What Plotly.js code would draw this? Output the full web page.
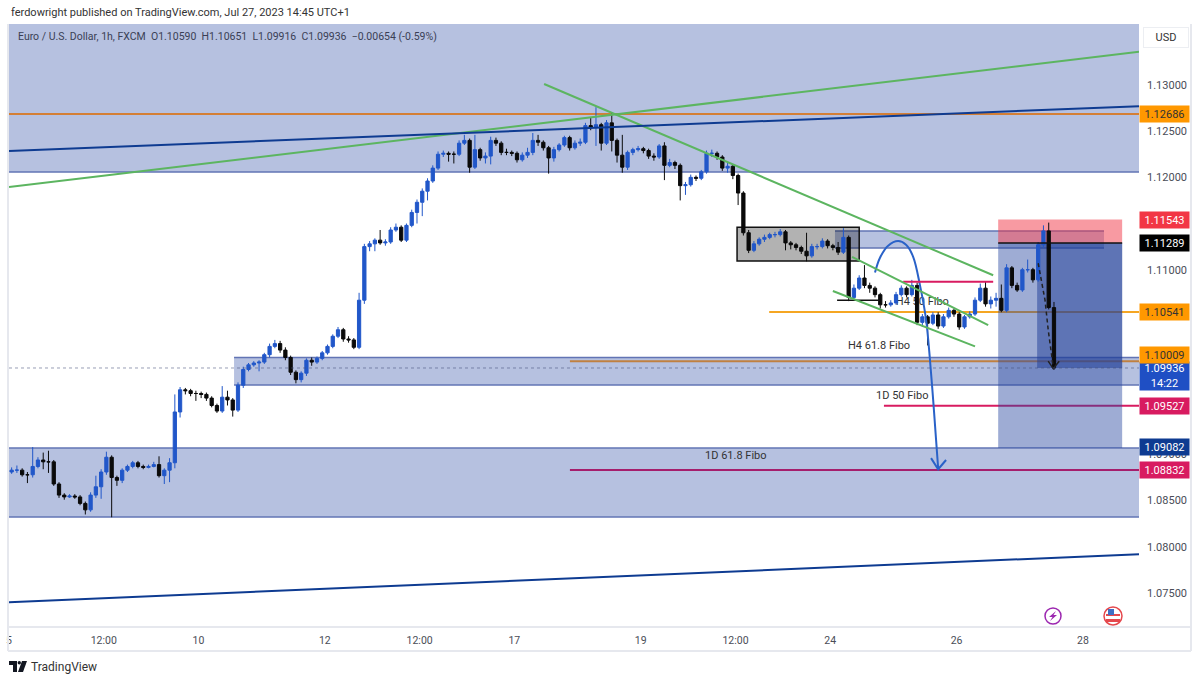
<!DOCTYPE html>
<html>
<head>
<meta charset="utf-8">
<script src="https://cdn.plot.ly/plotly-3.0.1.min.js"></script>
<style>html,body{margin:0;padding:0;background:#fff}</style>
</head>
<body>
<div id="chart" style="width:1200px;height:682px"></div>
<script>
// 2 hour candles
const opens = [1.0881,1.0883,1.0883,1.0878,1.0878,1.0887,1.0894,1.0892,1.0892,1.0868,1.0856,1.0854,1.0855,1.0854,1.0847,1.0840,1.0856,1.0865,1.0881,1.0897,
1.0875,1.0872,1.0883,1.0887,1.0891,1.0887,1.0886,1.0887,1.0889,1.0877,1.0883,1.0891,1.0946,1.0970,1.0969,1.0966,1.0966,1.0965,1.0961,1.0953,
1.0947,1.0962,1.0959,1.0948,1.0975,1.0992,1.0997,1.0999,1.1000,1.1008,1.1017,1.1020,1.1013,1.1005,1.0989,1.0981,1.0988,1.1002,1.1000,1.1004,
1.1010,1.1017,1.1028,1.1035,1.1025,1.1024,1.1016,1.1067,1.1125,1.1128,1.1132,1.1129,1.1130,1.1143,1.1146,1.1132,1.1148,1.1162,1.1173,1.1185,
1.1196,1.1210,1.1225,1.1226,1.1225,1.1225,1.1237,1.1240,1.1211,1.1230,1.1221,1.1223,1.1240,1.1237,1.1227,1.1227,1.1226,1.1219,1.1224,1.1227,
1.1240,1.1238,1.1232,1.1221,1.1230,1.1235,1.1243,1.1232,1.1237,1.1238,1.1256,1.1254,1.1257,1.1237,1.1259,1.1240,1.1224,1.1211,1.1227,1.1230,
1.1231,1.1229,1.1223,1.1222,1.1234,1.1213,1.1216,1.1213,1.1191,1.1192,1.1200,1.1199,1.1206,1.1226,1.1226,1.1222,1.1210,1.1212,1.1202,1.1183,
1.1140,1.1121,1.1128,1.1133,1.1135,1.1138,1.1138,1.1141,1.1129,1.1127,1.1124,1.1120,1.1115,1.1125,1.1125,1.1131,1.1126,1.1124,1.1119,1.1135,
1.1070,1.1080,1.1091,1.1083,1.1080,1.1073,1.1062,1.1062,1.1064,1.1073,1.1080,1.1073,1.1083,1.1043,1.1049,1.1042,1.1051,1.1039,1.1049,1.1056,
1.1052,1.1038,1.1049,1.1052,1.1067,1.1080,1.1063,1.1067,1.1069,1.1056,1.1102,1.1083,1.1078,1.1100,1.1100,1.1089,1.1127,1.1142,1.10590];
const highs = [1.0886,1.0888,1.0885,1.0881,1.0908,1.0897,1.0902,1.0904,1.0894,1.0870,1.0858,1.0857,1.0857,1.0856,1.0849,1.0859,1.0877,1.0884,1.0903,1.0899,
1.0877,1.0885,1.0889,1.0893,1.0893,1.0889,1.0889,1.0892,1.0898,1.0885,1.0896,1.0965,1.0973,1.0972,1.0971,1.0969,1.0968,1.0967,1.0963,1.0955,
1.0974,1.0969,1.0961,1.0978,1.0995,1.0999,1.1001,1.1002,1.1010,1.1020,1.1024,1.1023,1.1016,1.1007,1.0991,1.0990,1.1004,1.1005,1.1006,1.1012,
1.1019,1.1030,1.1038,1.1037,1.1028,1.1026,1.1075,1.1128,1.1131,1.1134,1.1143,1.1133,1.1146,1.1150,1.1148,1.1150,1.1165,1.1176,1.1188,1.1199,
1.1213,1.1228,1.1229,1.1228,1.1228,1.1240,1.1246,1.1242,1.1246,1.1232,1.1227,1.1244,1.1243,1.1239,1.1231,1.1229,1.1228,1.1227,1.1232,1.1248,
1.1246,1.1240,1.1234,1.1233,1.1237,1.1245,1.1245,1.1240,1.1242,1.1259,1.1265,1.1276,1.1259,1.1262,1.1270,1.1242,1.1246,1.1229,1.1232,1.1234,
1.1233,1.1231,1.1226,1.1236,1.1238,1.1220,1.1218,1.1215,1.1195,1.1203,1.1202,1.1208,1.1229,1.1230,1.1228,1.1224,1.1216,1.1214,1.1204,1.1185,
1.1143,1.1131,1.1135,1.1138,1.1140,1.1141,1.1144,1.1143,1.1131,1.1129,1.1126,1.1140,1.1128,1.1128,1.1134,1.1133,1.1128,1.1130,1.1145,1.1137,
1.1084,1.1094,1.1105,1.1086,1.1082,1.1075,1.1066,1.1067,1.1076,1.1083,1.1082,1.1089,1.1086,1.1052,1.1051,1.1054,1.1054,1.1052,1.1059,1.1058,
1.1054,1.1051,1.1055,1.1070,1.1085,1.1087,1.1071,1.1075,1.1084,1.1106,1.1104,1.1086,1.1102,1.1111,1.1102,1.1130,1.1148,1.1151,1.10651];
const lows = [1.0879,1.0880,1.0876,1.0869,1.0875,1.0885,1.0884,1.0880,1.0866,1.0853,1.0851,1.0853,1.0852,1.0845,1.0835,1.0838,1.0853,1.0852,1.0878,1.0832,
1.0866,1.0869,1.0881,1.0885,1.0885,1.0884,1.0885,1.0886,1.0875,1.0868,1.0870,1.0885,1.0940,1.0965,1.0963,1.0958,1.0961,1.0958,1.0951,1.0945,
1.0945,1.0953,1.0941,1.0946,1.0972,1.0990,1.0995,1.0990,1.0998,1.1005,1.1015,1.1010,1.1002,1.0986,1.0977,1.0978,1.0985,1.0996,1.0998,1.1002,
1.1008,1.1015,1.1026,1.1022,1.1021,1.1014,1.1014,1.1063,1.1120,1.1120,1.1127,1.1126,1.1128,1.1141,1.1130,1.1130,1.1146,1.1150,1.1158,1.1175,
1.1194,1.1208,1.1222,1.1217,1.1215,1.1223,1.1235,1.1205,1.1209,1.1218,1.1215,1.1214,1.1234,1.1224,1.1224,1.1223,1.1216,1.1217,1.1221,1.1224,
1.1234,1.1229,1.1204,1.1217,1.1228,1.1233,1.1229,1.1230,1.1234,1.1236,1.1251,1.1234,1.1229,1.1235,1.1228,1.1216,1.1205,1.1208,1.1224,1.1228,
1.1226,1.1220,1.1218,1.1220,1.1197,1.1211,1.1209,1.1175,1.1181,1.1190,1.1196,1.1197,1.1204,1.1222,1.1219,1.1207,1.1205,1.1198,1.1170,1.1137,
1.1118,1.1119,1.1126,1.1130,1.1133,1.1135,1.1136,1.1121,1.1122,1.1121,1.1117,1.1109,1.1113,1.1122,1.1123,1.1123,1.1121,1.1116,1.1117,1.1066,
1.1068,1.1078,1.1080,1.1075,1.1070,1.1058,1.1059,1.1060,1.1062,1.1071,1.1070,1.1071,1.1040,1.1038,1.1018,1.1040,1.1036,1.1037,1.1047,1.1049,
1.1035,1.1036,1.1047,1.1050,1.1065,1.1060,1.1058,1.1060,1.1054,1.1054,1.1080,1.1076,1.1076,1.1097,1.1086,1.1087,1.1124,1.1057,1.09916];
const closes = [1.0883,1.0883,1.0878,1.0878,1.0887,1.0894,1.0892,1.0892,1.0868,1.0856,1.0854,1.0855,1.0854,1.0847,1.0840,1.0856,1.0865,1.0881,1.0897,1.0875,
1.0872,1.0883,1.0887,1.0891,1.0887,1.0886,1.0887,1.0889,1.0877,1.0883,1.0891,1.0946,1.0970,1.0969,1.0966,1.0966,1.0965,1.0961,1.0953,1.0947,
1.0962,1.0959,1.0948,1.0975,1.0992,1.0997,1.0999,1.1000,1.1008,1.1017,1.1020,1.1013,1.1005,1.0989,1.0981,1.0988,1.1002,1.1000,1.1004,1.1010,
1.1017,1.1028,1.1035,1.1025,1.1024,1.1016,1.1067,1.1125,1.1128,1.1132,1.1129,1.1130,1.1143,1.1146,1.1132,1.1148,1.1162,1.1173,1.1185,1.1196,
1.1210,1.1225,1.1226,1.1225,1.1225,1.1237,1.1240,1.1211,1.1230,1.1221,1.1223,1.1240,1.1237,1.1227,1.1227,1.1226,1.1219,1.1224,1.1227,1.1240,
1.1238,1.1232,1.1221,1.1230,1.1235,1.1243,1.1232,1.1237,1.1238,1.1256,1.1254,1.1257,1.1237,1.1259,1.1240,1.1224,1.1211,1.1227,1.1230,1.1231,
1.1229,1.1223,1.1222,1.1234,1.1213,1.1216,1.1213,1.1191,1.1192,1.1200,1.1199,1.1206,1.1226,1.1226,1.1222,1.1210,1.1212,1.1202,1.1183,1.1140,
1.1121,1.1128,1.1133,1.1135,1.1138,1.1138,1.1141,1.1129,1.1127,1.1124,1.1120,1.1115,1.1125,1.1125,1.1131,1.1126,1.1124,1.1119,1.1135,1.1070,
1.1080,1.1091,1.1083,1.1080,1.1073,1.1062,1.1062,1.1064,1.1073,1.1080,1.1073,1.1083,1.1043,1.1049,1.1042,1.1051,1.1039,1.1049,1.1056,1.1052,
1.1038,1.1049,1.1052,1.1067,1.1080,1.1063,1.1067,1.1069,1.1056,1.1102,1.1083,1.1078,1.1100,1.1100,1.1089,1.1127,1.1142,1.1059,1.09936];
const hours = closes.map((c, i) => 2 * i + 1);

const xTickVals = [0, 36, 72, 120, 156, 192, 240, 276, 312, 360, 408];
const xTickText = ['5', '12:00', '10', '12', '12:00', '17', '19', '12:00', '24', '26', '28'];
const yTickVals = [1.075, 1.08, 1.085, 1.09, 1.11, 1.12, 1.125, 1.13];

// hand drawn arrows
const curveX = [329, 330.9, 334, 337.8, 340.8, 343.5, 346.1, 348.4, 349.9, 351.1, 352.2, 353];
const curveY = [1.1097, 1.1113, 1.1126, 1.1131, 1.1127, 1.1114, 1.1083, 1.1046, 1.1002, 1.0959, 1.0916, 1.0885];
const curveHeadX = [350.3, 353, 356];
const curveHeadY = [1.0896, 1.0884, 1.0894];
const dashX = [391, 393.6, 394.8, 396.7];
const dashY = [1.1107, 1.1067, 1.1035, 1.0995];
const dashHeadX = [394.8, 396.7, 399];
const dashHeadY = [1.1001, 1.0993, 1.1001];

// zones: x0, x1, y0, y1
const zones = [
  [0, 429.3, 1.1366, 1.12058],
  [85.5, 429.3, 1.1005, 1.09752],
  [0, 429.3, 1.0907, 1.08322],
  [313.8, 416, 1.1142, 1.11235]
];
const BLUE_FILL = 'rgba(57,86,170,0.37)';
const BLUE_EDGE = '#6274b4';

// levels that pass under the position tool: x0, y0, x1, y1, colour, width
const levels = [
  [0, 1.12686, 429.3, 1.12686, '#d47f35', 2],
  [288.8, 1.10541, 429.3, 1.10541, '#f5a623', 2],
  [213.1, 1.10009, 429.3, 1.10009, '#c08040', 2],
  [332.4, 1.09527, 429.3, 1.09527, '#d81b60', 2],
  [213.1, 1.08832, 429.3, 1.08832, '#a51e6c', 2]
];
// trend lines on top of the candles
const lines = [
  [339.7, 1.1087, 373.9, 1.1087, '#d81b60', 2],
  [314.6, 1.1067, 330.9, 1.1067, '#111111', 1.5],
  [375.8, 1.11289, 422.9, 1.11289, '#111111', 1.5],
  [0, 1.11895, 429.3, 1.1336, '#5cb560', 2],
  [203.3, 1.1301, 373.9, 1.1094, '#5cb560', 2],
  [320.3, 1.1114, 372, 1.104, '#5cb560', 2],
  [313, 1.1077, 367, 1.1017, '#5cb560', 2],
  [0, 1.12285, 429.3, 1.1277, '#0e3b91', 2],
  [0, 1.074, 429.3, 1.0792, '#0e3b91', 2]
];

// right hand price labels: text, price, background, pixel shift, text colour
const priceLabels = [
  ['1.12686', 1.12686, '#ff9800', 0, '#333333'],
  ['1.11543', 1.11543, '#f23645', 0, '#ffffff'],
  ['1.11289', 1.11289, '#000000', 0, '#ffffff'],
  ['1.10541', 1.10541, '#ff9800', 0, '#333333'],
  ['1.10009', 1.10009, '#ff9800', 6, '#333333'],
  ['1.09527', 1.09527, '#d81b60', 0, '#ffffff'],
  ['1.09082', 1.09082, '#0e3b91', 0, '#ffffff'],
  ['1.08832', 1.08832, '#d81b60', 0, '#ffffff']
];

// chart notes: text, hour, price
const notes = [
  ['H4 61.8 Fibo', 330.6, 1.1018],
  ['1D 50 Fibo', 339.1, 1.0964],
  ['1D 61.8 Fibo', 276.2, 1.0899]
];

const FONT = 'Roboto, sans-serif';
const pxX = px => (px - 9) / 1130;
const pxY = py => (627 - py) / 603;

let shapes = [];
zones.forEach(z => {
  shapes.push({type: 'rect', layer: 'below', x0: z[0], x1: z[1], y0: z[2], y1: z[3],
    fillcolor: BLUE_FILL, line: {width: 0}});
  shapes.push({type: 'line', layer: 'below', x0: z[0], x1: z[1], y0: z[3], y1: z[3], line: {color: BLUE_EDGE, width: 1.5}});
  if (z[2] < 1.13) {
    shapes.push({type: 'line', layer: 'below', x0: z[0], x1: z[1], y0: z[2], y1: z[2], line: {color: BLUE_EDGE, width: 1.5}});
  }
});
levels.forEach(l => {
  shapes.push({type: 'line', layer: 'below', x0: l[0], y0: l[1], x1: l[2], y1: l[3], line: {color: l[4], width: l[5]}});
});
// grey box, then the short position tool
shapes.push({type: 'rect', layer: 'below', x0: 276.6, x1: 323, y0: 1.11095, y1: 1.1146,
  fillcolor: 'rgba(0,0,0,0.3)', line: {color: '#111111', width: 1.5}});
shapes.push({type: 'rect', layer: 'below', x0: 375.8, x1: 422.9, y0: 1.11289, y1: 1.11543,
  fillcolor: 'rgba(242,54,69,0.5)', line: {width: 0}});
shapes.push({type: 'rect', layer: 'below', x0: 375.8, x1: 422.9, y0: 1.0907, y1: 1.11289,
  fillcolor: 'rgba(41,70,160,0.45)', line: {width: 0}});
shapes.push({type: 'rect', layer: 'below', x0: 390.6, x1: 422.9, y0: 1.09936, y1: 1.11289,
  fillcolor: 'rgba(30,60,150,0.5)', line: {width: 0}});
// this note sits behind the candles
shapes.push({type: 'rect', layer: 'below', x0: 332, x1: 362, y0: 1.1058, y1: 1.1076, line: {width: 0},
  fillcolor: 'rgba(0,0,0,0)',
  label: {text: 'H4 50 Fibo', textposition: 'middle center', font: {size: 11, color: '#333333', family: FONT}}});
lines.forEach(l => {
  shapes.push({type: 'line', x0: l[0], y0: l[1], x1: l[2], y1: l[3], line: {color: l[4], width: l[5]}});
});
// last price line
shapes.push({type: 'line', x0: 0, x1: 429.3, y0: 1.09936, y1: 1.09936, line: {color: 'rgba(70,80,120,0.55)', width: 1, dash: 'dot'}});

// chart frame
const FRAME = '#e6e8ee';
[[pxX(8), pxY(24), pxX(8), pxY(651)],
 [pxX(1191), pxY(24), pxX(1191), pxY(651)],
 [pxX(8), pxY(627), pxX(1191), pxY(627)],
 [pxX(8), pxY(651), pxX(1191), pxY(651)]].forEach(f => {
  shapes.push({type: 'line', xref: 'paper', yref: 'paper', x0: f[0], y0: f[1], x1: f[2], y1: f[3], line: {color: FRAME, width: 2}});
});

// small icons at the foot of the chart, drawn in pixels around an anchor
function icon(px, py, s) {
  return Object.assign({xref: 'paper', yref: 'paper', xsizemode: 'pixel', ysizemode: 'pixel',
    xanchor: pxX(px), yanchor: pxY(py)}, s);
}
shapes.push(icon(1053, 616, {type: 'circle', x0: -8, x1: 8, y0: -8, y1: 8, fillcolor: '#ffffff', line: {color: '#9c27b0', width: 1.5}}));
shapes.push(icon(1053, 616, {type: 'path', path: 'M 3,5 L -4,-1 L -0.5,-1 L -3,-5 L 4,1 L 0.5,1 Z', fillcolor: '#9c27b0', line: {width: 0}}));
shapes.push(icon(1113, 616, {type: 'circle', x0: -9, x1: 9, y0: -9, y1: 9, fillcolor: '#ffffff', line: {color: '#e5484d', width: 1.5}}));
shapes.push(icon(1113, 616, {type: 'rect', x0: -7, x1: 7, y0: -6, y1: -3, fillcolor: '#e5484d', line: {width: 0}}));
shapes.push(icon(1113, 616, {type: 'rect', x0: -7, x1: 7, y0: 0, y1: 2, fillcolor: '#e5484d', line: {width: 0}}));
shapes.push(icon(1113, 616, {type: 'rect', x0: -5, x1: 1, y0: 1, y1: 7, fillcolor: '#3f6fc4', line: {width: 0}}));
// TradingView mark
shapes.push(icon(9, 661, {type: 'path', path: 'M 0,0 L 8,0 L 8,-11 L 4,-11 L 4,-4 L 0,-4 Z', fillcolor: '#131722', line: {width: 0}}));
shapes.push(icon(9, 661, {type: 'path', path: 'M 13,0 L 18,0 L 14,-11 L 9,-11 Z', fillcolor: '#131722', line: {width: 0}}));
shapes.push(icon(9, 661, {type: 'circle', x0: 8.6, x1: 12, y0: -3.6, y1: 0, fillcolor: '#131722', line: {width: 0}}));

let annotations = [
  {xref: 'paper', yref: 'paper', x: pxX(9), y: pxY(13), xanchor: 'left', yanchor: 'middle', showarrow: false,
    text: 'ferdowright published on TradingView.com, Jul 27, 2023 14:45 UTC+1', font: {size: 11, color: '#333333', family: FONT}},
  {xref: 'paper', yref: 'paper', x: pxX(16), y: pxY(36), xanchor: 'left', yanchor: 'middle', showarrow: false,
    text: 'Euro / U.S. Dollar, 1h, FXCM  O1.10590  H1.10651  L1.09916  C1.09936  \u22120.00654 (-0.59%)',
    font: {size: 10.5, color: '#3a3f55', family: FONT}},
  {xref: 'paper', yref: 'paper', x: pxX(1143), y: pxY(37), xanchor: 'left', yanchor: 'middle', showarrow: false,
    text: 'USD', width: 42, height: 17, align: 'center', bgcolor: '#ffffff', bordercolor: '#eceef2', borderwidth: 1,
    font: {size: 11, color: '#333333', family: FONT}},
  {xref: 'paper', yref: 'paper', x: pxX(29), y: pxY(667), xanchor: 'left', yanchor: 'middle', showarrow: false,
    text: 'TradingView', font: {size: 12, color: '#333333', family: FONT}},
  {xref: 'paper', yref: 'y', x: 1, y: 1.09936, xanchor: 'left', yanchor: 'top', yshift: 7, showarrow: false,
    text: '1.09936<br>14:22', width: 47, height: 26, align: 'center', bgcolor: '#1f4fc4',
    font: {size: 11, color: '#ffffff', family: FONT}}
];
priceLabels.forEach(p => {
  annotations.push({xref: 'paper', yref: 'y', x: 1, y: p[1], yshift: p[3], xanchor: 'left', yanchor: 'middle', showarrow: false,
    text: p[0], width: 47, height: 14, align: 'center', bgcolor: p[2], font: {size: 11, color: p[4], family: FONT}});
});
notes.forEach(n => {
  annotations.push({x: n[1], y: n[2], showarrow: false, text: n[0], font: {size: 11, color: '#333333', family: FONT}});
});

const data = [
  {type: 'candlestick', x: hours, open: opens, high: highs, low: lows, close: closes,
    increasing: {line: {color: '#2157c9', width: 1}, fillcolor: '#2157c9'},
    decreasing: {line: {color: '#0a0a0a', width: 1}, fillcolor: '#0a0a0a'},
    whiskerwidth: 0, hoverinfo: 'skip'},
  {type: 'scatter', mode: 'lines', x: curveX, y: curveY, line: {color: '#2a62c8', width: 2, shape: 'spline'}, hoverinfo: 'skip'},
  {type: 'scatter', mode: 'lines', x: curveHeadX, y: curveHeadY, line: {color: '#2a62c8', width: 2}, hoverinfo: 'skip'},
  {type: 'scatter', mode: 'lines', x: dashX, y: dashY, line: {color: '#222222', width: 1.5, dash: '4px,3px'}, hoverinfo: 'skip'},
  {type: 'scatter', mode: 'lines', x: dashHeadX, y: dashHeadY, line: {color: '#222222', width: 1.5}, hoverinfo: 'skip'}
];

const layout = {
  width: 1200,
  height: 682,
  margin: {l: 9, r: 61, t: 24, b: 55, pad: 0},
  paper_bgcolor: '#ffffff',
  plot_bgcolor: '#ffffff',
  showlegend: false,
  boxgap: 0.12,
  font: {family: FONT, color: '#4a4d57'},
  xaxis: {
    type: 'linear',
    range: [0, 429.3],
    rangeslider: {visible: false},
    tickmode: 'array',
    tickvals: xTickVals,
    ticktext: xTickText,
    tickfont: {size: 10.5, color: '#4a4d57'},
    showgrid: false,
    zeroline: false,
    showline: false,
    ticks: '',
    ticklabelstandoff: 5
  },
  yaxis: {
    side: 'right',
    range: [1.07132, 1.1366],
    tickmode: 'array',
    tickvals: yTickVals,
    ticktext: yTickVals.map(v => v.toFixed(5)),
    tickfont: {size: 11, color: '#4a4d57'},
    showgrid: false,
    zeroline: false,
    showline: false,
    ticks: '',
    ticklabelstandoff: 7
  },
  shapes: shapes,
  annotations: annotations
};

Plotly.newPlot('chart', data, layout, {displayModeBar: false, staticPlot: true});
</script>
</body>
</html>
